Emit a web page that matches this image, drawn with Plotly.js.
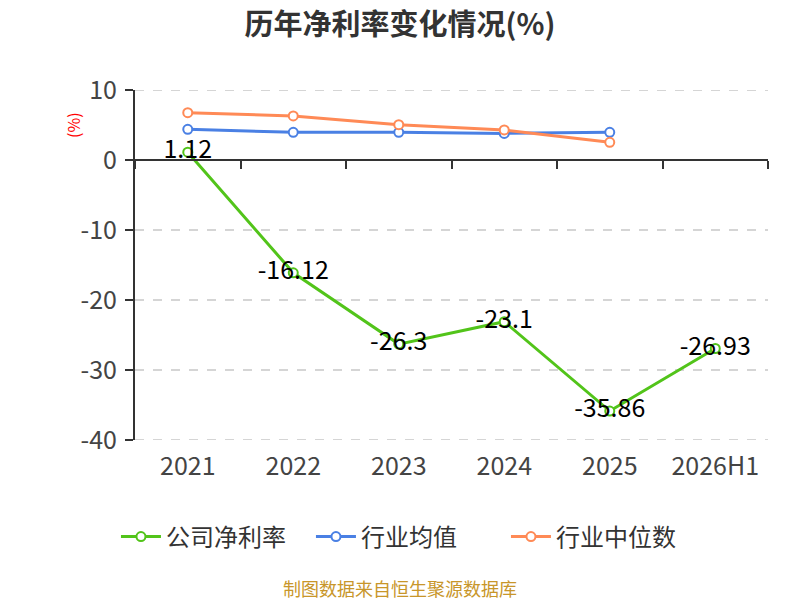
<!DOCTYPE html>
<html><head><meta charset="utf-8">
<script src="https://cdn.plot.ly/plotly-3.0.1.min.js"></script>
<style>html,body{margin:0;padding:0;background:#fff}#c{width:800px;height:600px}</style>
</head><body><div id="c"></div>
<script>
var categories = ['2021','2022','2023','2024','2025','2026H1'];
var companyNetMargin = [1.12, -16.12, -26.3, -23.1, -35.86, -26.93];
var industryAvg = [4.38, 3.95, 3.95, 3.8, 3.95];
var industryMedian = [6.76, 6.29, 5.05, 4.29, 2.53];
var companyLabels = ['1.12','-16.12','-26.3','-23.1','-35.86','-26.93'];
var seriesNames = ['公司净利率','行业均值','行业中位数'];
var yTicks = [10, 0, -10, -20, -30, -40];

var F = '"Noto Sans CJK SC", "Noto Sans", sans-serif';
var green = '#52c41a', blue = '#4a80e4', orange = '#ff8a56';

function mk(name, y, color, text) {
  var t = {
    type: 'scatter', mode: text ? 'lines+markers+text' : 'lines+markers',
    name: name, x: categories.slice(0, y.length), y: y,
    line: {color: color, width: 3},
    marker: {symbol: 'circle', size: 9, color: '#fff', line: {color: color, width: 2}},
    cliponaxis: false, hoverinfo: 'none'
  };
  if (text) {
    t.text = text; t.textposition = 'middle center';
    t.textfont = {family: F, size: 25, color: '#000'};
  }
  return t;
}

var data = [
  mk(seriesNames[0], companyNetMargin, green, companyLabels),
  mk(seriesNames[1], industryAvg, blue),
  mk(seriesNames[2], industryMedian, orange)
];

var gridShapes = yTicks.filter(function(v){return v !== 0;}).map(function(v){
  return {type: 'line', xref: 'paper', yref: 'y', x0: 0, x1: 1, y0: v, y1: v, layer: 'below',
          line: {color: '#c8c8c8', width: 1.5, dash: 'dash'}};
});

var layout = {
  width: 800, height: 600,
  margin: {l: 135, r: 32, t: 90, b: 160},
  paper_bgcolor: '#fff', plot_bgcolor: '#fff',
  title: {text: '<b>历年净利率变化情况(%)</b>', x: 0.5, xanchor: 'center', y: 0.958, yanchor: 'middle',
          font: {family: F, size: 29, color: '#333'}},
  showlegend: true,
  legend: {orientation: 'h', x: 0.432, xanchor: 'center', y: -0.277, yanchor: 'middle',
           font: {family: F, size: 24, color: '#333'}, itemwidth: 40, tracegroupgap: 0,
           entrywidth: 140, entrywidthmode: 'pixels'},
  xaxis: {type: 'category', categoryorder: 'array', categoryarray: categories,
          range: [-0.5, 5.5], showline: false, showgrid: false, zeroline: false,
          ticks: '', tickfont: {family: F, size: 25, color: '#444'}, ticklabelstandoff: 9},
  xaxis2: {type: 'category', categoryorder: 'array', categoryarray: categories,
           range: [-0.5, 5.5], overlaying: 'x', anchor: 'free', position: 0.8,
           showline: true, linecolor: '#333', linewidth: 2, ticks: 'outside', ticklen: 8,
           tickcolor: '#333', tickwidth: 2, tickson: 'boundaries', showticklabels: false,
           showgrid: false, zeroline: false, matches: 'x'},
  yaxis: {range: [-40, 10], tickvals: yTicks, ticktext: yTicks.map(String),
          showline: true, linecolor: '#333', linewidth: 2, ticks: 'outside', ticklen: 8,
          tickcolor: '#333', tickwidth: 2, ticklabelstandoff: 3,
          showgrid: false, zeroline: false,
          tickfont: {family: F, size: 25, color: '#444'}},
  shapes: gridShapes,
  annotations: [
    {text: '(%)', xref: 'paper', yref: 'paper', x: -0.098, y: 0.9, textangle: -90,
     showarrow: false, font: {family: F, size: 16, color: '#ff0000'}, xanchor: 'center', yanchor: 'middle'},
    {text: '制图数据来自恒生聚源数据库', xref: 'paper', yref: 'paper', x: 0.418, y: -0.423,
     showarrow: false, font: {family: F, size: 18, color: '#c8962a'}, xanchor: 'center', yanchor: 'middle'}
  ]
};
data.push({type: 'scatter', x: categories, y: categories.map(function(){return null;}), xaxis: 'x2', yaxis: 'y',
           showlegend: false, hoverinfo: 'none', mode: 'lines'});

Plotly.newPlot('c', data, layout, {displayModeBar: false, staticPlot: true});
</script></body></html>
